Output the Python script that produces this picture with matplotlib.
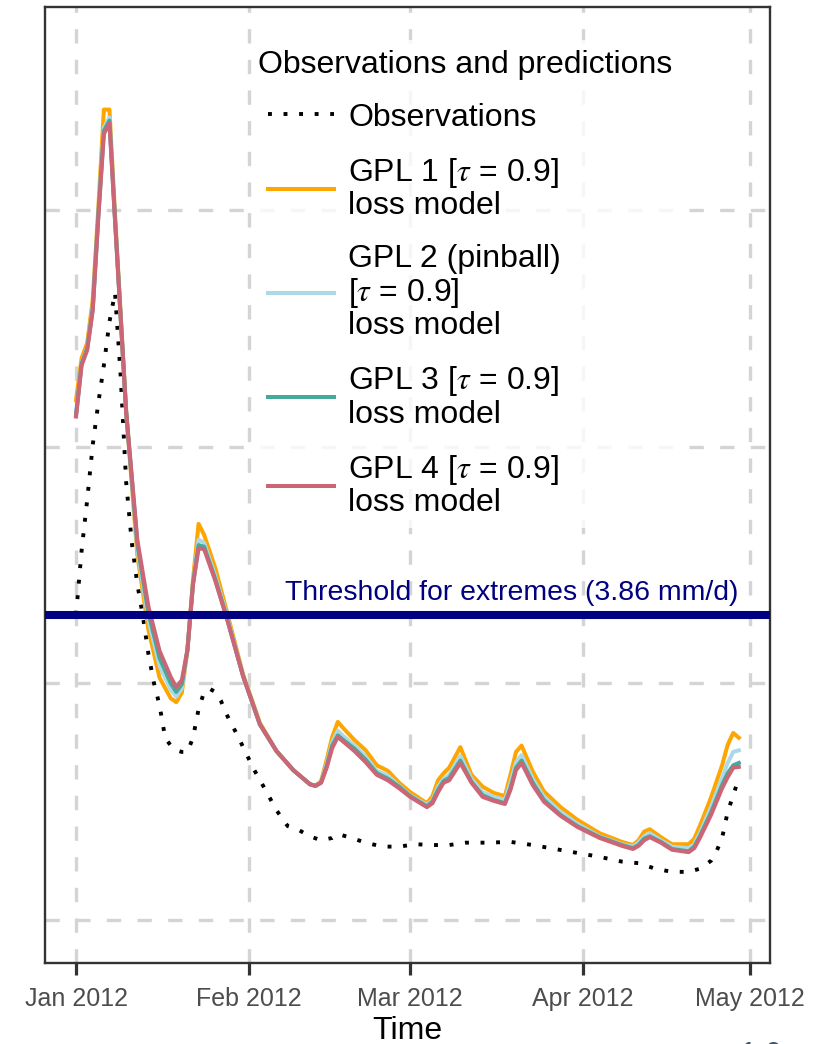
import numpy as np
import matplotlib
matplotlib.use("Agg")
import matplotlib.pyplot as plt
import matplotlib.dates as mdates
import matplotlib.transforms as mtransforms

plt.rcParams['font.family'] = ['Liberation Sans', 'DejaVu Sans']
plt.rcParams['mathtext.fontset'] = 'stix'

# ---------------- data ----------------
start_date = '2012-01-01'

# days since 2012-01-01 for the model series
model_day = [0, 1, 2, 3, 4, 5, 6, 7, 9, 11, 13, 15, 17, 18, 19, 20, 21, 22, 23, 25,
             27, 30, 33, 36, 39, 42, 43, 44, 45, 46, 47, 48, 50, 52, 54, 56, 58, 60,
             63, 64, 65, 66, 67, 69, 71, 73, 75, 77, 78, 79, 80, 82, 84, 87, 90, 94,
             98, 100, 101, 102, 103, 105, 107, 110, 111, 112, 114, 116, 117, 118, 119]

gpl1 = [6.59, 7.12, 7.31, 7.86, 9.02, 10.27, 10.27, 8.94, 6.44, 4.63, 3.68, 3.07, 2.81, 2.76, 2.88, 3.42, 4.31, 5.02, 4.88, 4.46,
        3.93, 3.11, 2.50, 2.14, 1.90, 1.72, 1.70, 1.76, 2.03, 2.32, 2.51, 2.43, 2.28, 2.15, 1.96, 1.89, 1.74, 1.62,
        1.48, 1.57, 1.77, 1.86, 1.93, 2.19, 1.84, 1.69, 1.61, 1.57, 1.84, 2.13, 2.21, 1.88, 1.63, 1.43, 1.27, 1.10,
        0.99, 0.95, 1.01, 1.12, 1.15, 1.05, 0.96, 0.96, 1.03, 1.19, 1.55, 1.96, 2.22, 2.37, 2.31]

gpl2 = [6.40, 7.06, 7.25, 7.77, 8.95, 10.04, 10.17, 8.90, 6.44, 4.71, 3.80, 3.22, 2.92, 2.83, 2.94, 3.42, 4.27, 4.82, 4.78, 4.36,
        3.88, 3.09, 2.48, 2.14, 1.90, 1.72, 1.70, 1.75, 1.98, 2.25, 2.40, 2.33, 2.21, 2.07, 1.89, 1.83, 1.70, 1.58,
        1.46, 1.52, 1.69, 1.79, 1.84, 2.08, 1.79, 1.62, 1.56, 1.52, 1.74, 2.00, 2.09, 1.79, 1.56, 1.37, 1.22, 1.06,
        0.96, 0.93, 0.98, 1.06, 1.10, 1.01, 0.93, 0.91, 0.96, 1.10, 1.43, 1.80, 1.99, 2.13, 2.15]

gpl3 = [6.40, 7.05, 7.24, 7.74, 8.92, 10.00, 10.13, 8.88, 6.44, 4.77, 3.89, 3.32, 3.00, 2.89, 2.99, 3.42, 4.26, 4.75, 4.73, 4.32,
        3.85, 3.09, 2.48, 2.14, 1.90, 1.72, 1.70, 1.74, 1.95, 2.21, 2.34, 2.28, 2.17, 2.03, 1.86, 1.79, 1.69, 1.57,
        1.44, 1.50, 1.65, 1.76, 1.80, 2.02, 1.75, 1.58, 1.52, 1.48, 1.67, 1.93, 2.02, 1.74, 1.52, 1.33, 1.19, 1.05,
        0.95, 0.91, 0.95, 1.03, 1.06, 0.99, 0.90, 0.87, 0.93, 1.06, 1.36, 1.71, 1.86, 1.96, 1.99]

gpl4 = [6.38, 7.03, 7.22, 7.73, 8.90, 9.96, 10.10, 8.87, 6.44, 4.82, 3.97, 3.41, 3.08, 2.95, 3.04, 3.42, 4.25, 4.71, 4.70, 4.30,
        3.84, 3.09, 2.48, 2.14, 1.90, 1.72, 1.70, 1.74, 1.93, 2.18, 2.32, 2.26, 2.14, 2.00, 1.84, 1.77, 1.67, 1.56,
        1.43, 1.48, 1.62, 1.74, 1.77, 1.99, 1.74, 1.56, 1.51, 1.47, 1.65, 1.90, 1.99, 1.71, 1.50, 1.32, 1.18, 1.04,
        0.94, 0.90, 0.94, 1.01, 1.05, 0.98, 0.89, 0.86, 0.91, 1.04, 1.33, 1.67, 1.81, 1.93, 1.94]

# days since 2012-01-01 for the observations
obs_day = [0, 1, 2, 3, 4, 5, 6, 7, 8, 9, 10, 11, 12, 13, 14, 15, 16, 17, 18, 19, 20, 21, 22, 23, 24,
           25, 26, 27, 28, 29, 30, 32, 34, 36, 38, 40, 42, 44, 46, 47, 49, 52, 55, 58, 61, 64, 67, 70,
           74, 78, 82, 86, 90, 94, 98, 101, 104, 107, 110, 112, 114, 115, 116, 117, 118, 119]
observations = [3.87, 4.68, 5.32, 6.02, 6.55, 7.03, 7.58, 7.95, 6.91, 5.55, 4.79, 4.26, 3.85, 3.37, 3.00, 2.72, 2.31,
                2.21, 2.15, 2.13, 2.13, 2.31, 2.67, 2.89, 2.93, 2.89, 2.78, 2.61, 2.47, 2.34, 2.19, 1.90, 1.65,
                1.39, 1.19, 1.14, 1.06, 1.01, 1.04, 1.09, 1.05, 0.98, 0.93, 0.93, 0.96, 0.95, 0.95, 0.98, 0.98,
                0.99, 0.95, 0.90, 0.85, 0.80, 0.74, 0.72, 0.65, 0.61, 0.61, 0.65, 0.75, 0.87, 1.04, 1.37, 1.58, 1.80]

threshold = 3.86
threshold_label = 'Threshold for extremes (3.86 mm/d)'

series_labels = ['GPL 1 [$\\tau$ = 0.9]\nloss model',
                 'GPL 2 (pinball)\n[$\\tau$ = 0.9]\nloss model',
                 'GPL 3 [$\\tau$ = 0.9]\nloss model',
                 'GPL 4 [$\\tau$ = 0.9]\nloss model']
series_colors = ['#FFA500', '#ADD8E6', '#44AA99', '#CC6677']

month_ticks = ['2012-01-01', '2012-02-01', '2012-03-01', '2012-04-01', '2012-05-01']
month_labels = ['Jan 2012', 'Feb 2012', 'Mar 2012', 'Apr 2012', 'May 2012']
y_grid = [0, 3, 6, 9]

# ---------------- figure ----------------
W, H = 823, 1044
fig = plt.figure(figsize=(W / 100, H / 100), dpi=100)
ax = fig.add_axes([45 / W, 1 - 963 / H, (770 - 45) / W, (963 - 7) / H])

t0 = np.datetime64(start_date)
model_dates = t0 + np.array(model_day).astype('timedelta64[D]')
obs_dates = t0 + np.array(obs_day).astype('timedelta64[D]')

ax.plot(obs_dates, observations, color='black', lw=2.8, linestyle=(0, (1, 3.0)),
        label='Observations', zorder=3)
for vals, lab, col in zip([gpl1, gpl2, gpl3, gpl4], series_labels, series_colors):
    ax.plot(model_dates, vals, color=col, lw=2.9, label=lab, zorder=4,
            solid_joinstyle='round')

ax.axhline(threshold, color='#000080', lw=5.8, zorder=5)
trans = mtransforms.blended_transform_factory(ax.transAxes, ax.transData)
ax.text((738 - 45) / 725, threshold + 0.19, threshold_label, transform=trans,
        ha='right', va='baseline', fontsize=20.4, color='#000080', zorder=6)

x0 = mdates.date2num(t0)
ax.set_xlim(x0 - 5.57, x0 + 124.6)
ax.set_ylim(-0.545, 11.57)

ax.set_xticks(mdates.date2num(np.array(month_ticks, dtype='datetime64[D]')))
ax.set_xticklabels(month_labels)
ax.set_yticks(y_grid)
ax.set_yticklabels([])
ax.tick_params(axis='y', length=0)
ax.tick_params(axis='x', direction='out', length=8.6, width=2.3, color='#333333',
               labelsize=18, labelcolor='#4D4D4D', pad=9)
ax.grid(True, color='#D4D4D4', lw=2.4, linestyle=(0, (4.3, 4.9)), zorder=0)
ax.set_axisbelow(True)
for sp in ax.spines.values():
    sp.set_color('#333333')
    sp.set_linewidth(1.7)

ax.set_xlabel('Time', fontsize=23, color='black', labelpad=3)

leg = ax.legend(title='Observations and predictions', fontsize=23, title_fontsize=23,
                alignment='left', loc='upper left', mode='expand',
                bbox_to_anchor=(258 / W, 1 - 40 / H, (683 - 258) / W, 0),
                bbox_transform=fig.transFigure,
                borderaxespad=0, borderpad=0.3, handlelength=2.09, handletextpad=0.44,
                labelspacing=0.72, frameon=True, fancybox=False, framealpha=0.8,
                facecolor='white', edgecolor='none')
leg.set_zorder(10)
for t in leg.get_texts():
    t.set_linespacing(1.065)
leg.get_title().set_x(-10)

fig.text(740 / W, (H - 1041) / H, '1.6', ha='left', va='top', fontsize=22, color='#44546A')

fig.savefig('out.png', dpi=100)
